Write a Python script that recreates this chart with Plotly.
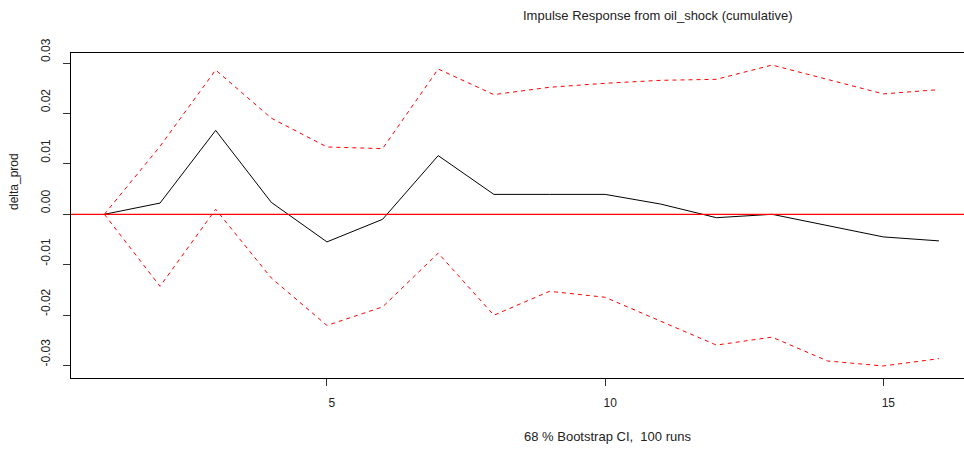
import plotly.graph_objects as go

# Cumulative impulse response of delta_prod to an oil_shock, with bootstrap band
horizon = list(range(1, 17))
irf = [0.0, 0.00223, 0.01664, 0.00237, -0.00547, -0.00099, 0.01164, 0.00395,
       0.00395, 0.00395, 0.00203, -0.00067, 0.0, -0.00231, -0.00448, -0.00527]
upper = [0.0, 0.01348, 0.02862, 0.01907, 0.01335, 0.01302, 0.02881, 0.02374,
         0.02519, 0.02598, 0.02657, 0.02677, 0.0296, 0.0268, 0.02388, 0.02473]
lower = [0.0, -0.01428, 0.00099, -0.01263, -0.02204, -0.01836, -0.0077, -0.02001,
         -0.01527, -0.01645, -0.0212, -0.02593, -0.02435, -0.02909, -0.03007, -0.02862]

x_tickvals = [5, 10, 15]
y_tickvals = [-0.03, -0.02, -0.01, 0.0, 0.01, 0.02, 0.03]
y_ticktext = ["-0.03", "-0.02", "-0.01", "0.00", "0.01", "0.02", "0.03"]

title_text = "Impulse Response from oil_shock (cumulative)"
ci_text = "68 % Bootstrap CI,  100 runs"
y_title = "delta_prod"

# y limits with the usual 4% padding around the data range
lo = min(irf + upper + lower)
hi = max(irf + upper + lower)
pad = 0.04 * (hi - lo)
ylim = [lo - pad, hi + pad]

FONT = "Liberation Sans, Arial, sans-serif"

fig = go.Figure()
fig.add_trace(go.Scatter(x=horizon, y=irf, mode="lines",
                         line=dict(color="black", width=1)))
fig.add_trace(go.Scatter(x=horizon, y=upper, mode="lines",
                         line=dict(color="#ff0000", width=1, dash="4px,4px")))
fig.add_trace(go.Scatter(x=horizon, y=lower, mode="lines",
                         line=dict(color="#ff0000", width=1, dash="4px,4px")))

# horizontal reference line at zero
fig.add_shape(type="line", xref="paper", yref="y", x0=0, x1=1, y0=0, y1=0,
              line=dict(color="#ff0000", width=1.3))

fig.update_layout(
    width=964, height=452,
    margin=dict(l=71, r=0, t=53, b=74),
    paper_bgcolor="white", plot_bgcolor="white",
    showlegend=False,
    font=dict(family=FONT, size=12, color="black"),
)

fig.update_xaxes(
    range=[0.4, 16.45], tickvals=x_tickvals, ticktext=[str(v) for v in x_tickvals],
    showgrid=False, zeroline=False,
    showline=True, mirror=True, linecolor="black", linewidth=1,
    ticks="outside", ticklen=7, tickcolor="#333", tickwidth=1,
    tickfont=dict(family=FONT, size=12, color="#222"),
    ticklabelstandoff=7, ticklabelshift=5,
)
fig.update_yaxes(
    range=ylim, tickvals=y_tickvals, ticktext=y_ticktext,
    showgrid=False, zeroline=False,
    showline=True, linecolor="black", linewidth=1,
    ticks="outside", ticklen=7, tickcolor="#333", tickwidth=1,
    tickangle=-90,
    tickfont=dict(family=FONT, size=12, color="#222"),
    ticklabelstandoff=8, ticklabelshift=-11,
)

fig.add_annotation(text=title_text, xref="paper", yref="paper",
                   x=(658 - 71) / 893, y=1 + (53 - 15.5) / 325, xanchor="center", yanchor="middle",
                   showarrow=False, font=dict(family=FONT, size=13, color="#222"))
fig.add_annotation(text=ci_text, xref="paper", yref="paper",
                   x=(607 - 71) / 893, y=-(436 - 378) / 325, xanchor="center", yanchor="middle",
                   showarrow=False, font=dict(family=FONT, size=13, color="#222"))
fig.add_annotation(text=y_title, xref="paper", yref="paper",
                   x=-(71 - 14) / 893, y=(378 - 182) / 325, xanchor="center", yanchor="middle",
                   textangle=-90, showarrow=False,
                   font=dict(family=FONT, size=12, color="#222"))

fig.write_html("out.html")
